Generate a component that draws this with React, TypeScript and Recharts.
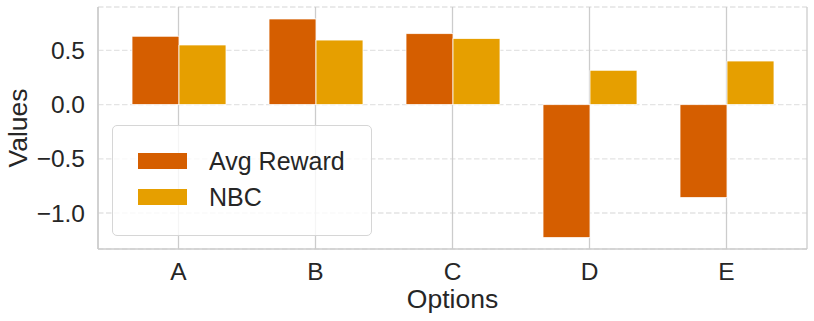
import React from 'react';
import { BarChart, Bar, XAxis, YAxis, CartesianGrid, Legend, Label } from 'recharts';

const categories = ['A', 'B', 'C', 'D', 'E'];
const avgReward = [0.63, 0.79, 0.655, -1.227, -0.858];
const nbc = [0.55, 0.595, 0.61, 0.316, 0.402];
const yTicks = [-1.0, -0.5, 0.0, 0.5];
const yDomain = [-1.332, 0.9];

const data = categories.map((c, i) => ({ name: c, avg: avgReward[i], nbc: nbc[i] }));

const FONT = '"Liberation Sans", Arial, sans-serif';
const TEXT = '#262626';
const fmt = (v: number) => v.toFixed(1).replace('-', '\u2212');

const LegendBox = (props: any) => {
  const payload = props.payload || [];
  return (
    <div style={{ position: 'relative', width: 0, height: 0 }}>
      <div
        style={{
          position: 'absolute',
          left: 0,
          top: 0,
          width: 258,
          height: 109,
          border: '1.3px solid #d6d6d6',
          borderRadius: 5,
          background: 'rgba(255,255,255,0.8)',
          fontFamily: FONT,
        }}
      >
        {payload.map((p: any, i: number) => (
          <div key={i} style={{ position: 'absolute', left: 25, top: 26 + i * 36, height: 18, display: 'flex', alignItems: 'center' }}>
            <div style={{ width: 49, height: 16, background: p.color, boxSizing: 'border-box' }} />
            <span style={{ marginLeft: 22, fontSize: 25, color: TEXT, lineHeight: '18px', whiteSpace: 'nowrap' }}>{p.value}</span>
          </div>
        ))}
      </div>
    </div>
  );
};

const YLabel = (props: any) => {
  const vb = props.viewBox || {};
  const cy = vb.y + vb.height / 2;
  return (
    <text x={27} y={cy} transform={`rotate(-90, 27, ${cy})`} textAnchor="middle" fontSize={26.5} fill={TEXT} fontFamily={FONT}>
      Values
    </text>
  );
};

const XLabel = (props: any) => {
  const vb = props.viewBox || {};
  const cx = vb.x + vb.width / 2;
  return (
    <text x={cx} y={308} textAnchor="middle" fontSize={26.5} fill={TEXT} fontFamily={FONT}>
      Options
    </text>
  );
};

export default function App() {
  return (
    <div style={{ position: 'absolute', left: 0, top: 0, width: 814, height: 321, background: '#fff' }}>
      <BarChart
        width={814}
        height={321}
        data={data}
        margin={{ top: 7, right: 7, left: 0, bottom: 0 }}
        barGap={0}
        barSize={47}
      >
        <CartesianGrid vertical={false} stroke="#e4e4e4" strokeWidth={1.3} strokeDasharray="5.5 2.5" />
        <CartesianGrid horizontal={false} stroke="#cccccc" strokeWidth={1.3} />
        <XAxis
          dataKey="name"
          xAxisId={0}
          height={72}
          padding={{ left: 12, right: 12 }}
          axisLine={{ stroke: '#cccccc', strokeWidth: 1.5 }}
          tickLine={false}
          tickSize={6}
          tickMargin={8}
          tick={{ fontSize: 24.5, fill: TEXT, fontFamily: FONT }}
        >
          <Label content={<XLabel />} />
        </XAxis>
        <XAxis
          dataKey="name"
          xAxisId="top"
          orientation="top"
          height={0}
          padding={{ left: 12, right: 12 }}
          axisLine={{ stroke: '#cccccc', strokeWidth: 1.5 }}
          tickLine={false}
          tick={false}
        />
        <YAxis
          yAxisId={0}
          width={98}
          domain={yDomain}
          ticks={yTicks}
          type="number"
          allowDataOverflow
          tickFormatter={fmt}
          axisLine={{ stroke: '#cccccc', strokeWidth: 1.5 }}
          tickLine={false}
          tickSize={6}
          tickMargin={7}
          tick={{ fontSize: 24.5, fill: TEXT, fontFamily: FONT }}
        >
          <Label content={<YLabel />} />
        </YAxis>
        <YAxis
          yAxisId="right"
          orientation="right"
          width={0}
          domain={yDomain}
          type="number"
          allowDataOverflow
          axisLine={{ stroke: '#cccccc', strokeWidth: 1.5 }}
          tickLine={false}
          tick={false}
        />
        <Legend
          content={<LegendBox />}
          wrapperStyle={{ position: 'absolute', left: 112, top: 125, width: 0, height: 0 }}
        />
        <Bar dataKey="avg" name="Avg Reward" fill="#D55E00" stroke="#ffffff" strokeWidth={0.8} isAnimationActive={false} />
        <Bar dataKey="nbc" name="NBC" fill="#E69F00" stroke="#ffffff" strokeWidth={0.8} isAnimationActive={false} />
      </BarChart>
    </div>
  );
}
